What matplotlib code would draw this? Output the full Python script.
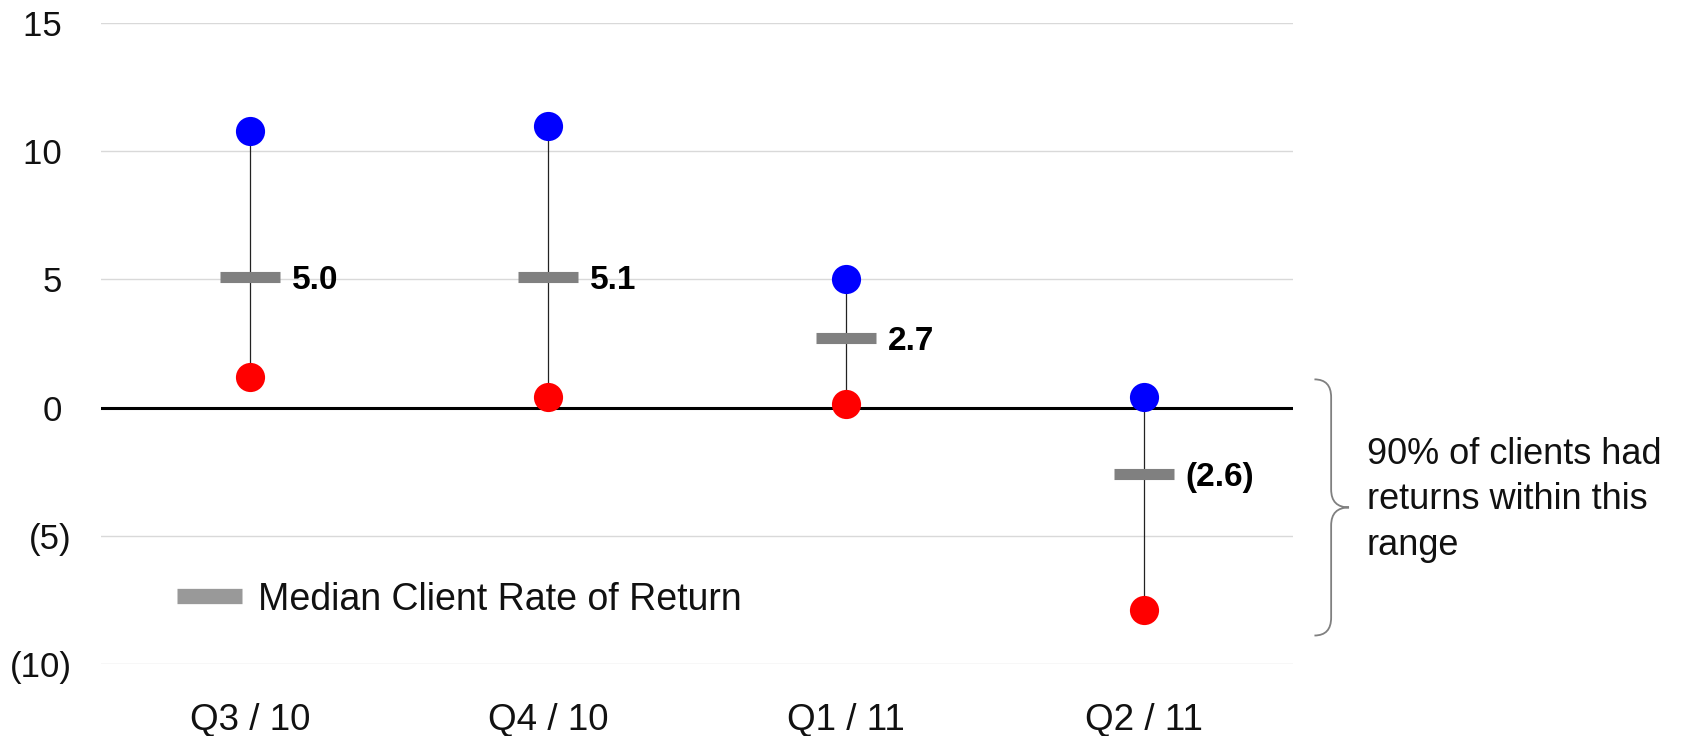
import numpy as np
import matplotlib
matplotlib.use('Agg')
import matplotlib.pyplot as plt
from matplotlib.path import Path
from matplotlib.patches import PathPatch
import matplotlib.transforms as mtransforms

plt.rcParams['font.family'] = ['Liberation Sans', 'DejaVu Sans']

# data
quarters = ['Q3 / 10', 'Q4 / 10', 'Q1 / 11', 'Q2 / 11']
high_90 = [10.8, 11.0, 5.0, 0.4]
low_90 = [1.2, 0.4, 0.15, -7.9]
median = [5.1, 5.1, 2.7, -2.6]
median_labels = ['5.0', '5.1', '2.7', '(2.6)']
yticks = [-10, -5, 0, 5, 10, 15]

fig = plt.figure(figsize=(16.89, 7.36), dpi=100)
ax = fig.add_axes([101 / 1689, 72.3 / 736, 1192 / 1689, 640.4 / 736])

x = np.arange(len(quarters))

# gridlines and zero line
for t in yticks:
    if t == 0:
        continue
    ax.axhline(t, color='#d9d9d9', lw=1, zorder=0)
ax.axhline(0, color='black', lw=2.2, zorder=1)

# range lines
ax.vlines(x, low_90, high_90, color='#222222', lw=0.9, zorder=2)
# median bars
ax.hlines(median, x - 0.1, x + 0.1, color='#808080', lw=8, zorder=3, capstyle='butt')
# end points
ax.plot(x, high_90, 'o', color='#0000ff', ms=21, mec='none', zorder=4)
ax.plot(x, low_90, 'o', color='#ff0000', ms=21, mec='none', zorder=4)

for xi, m, lab in zip(x, median, median_labels):
    ax.annotate(lab, (xi + 0.14, m), va='center_baseline', ha='left', fontsize=24,
                fontweight='bold', color='black')

ax.set_xlim(-0.5, 3.5)
ax.set_ylim(-10, 15)
ax.set_yticks(yticks)
ax.set_yticklabels([f'({abs(t)})' if t < 0 else f'{t} ' for t in yticks])
ax.set_xticks(x)
ax.set_xticklabels(quarters)
ax.tick_params(axis='y', length=0, pad=21, labelsize=25, labelcolor='#111111')
ax.tick_params(axis='x', length=0, pad=28, labelsize=26.5, labelcolor='#111111')
for s in ax.spines.values():
    s.set_visible(False)

# legend
ax.plot([0.064, 0.118], [0.106, 0.106], transform=ax.transAxes, color='#999999',
        lw=11, solid_capstyle='butt', clip_on=False)
ax.text(0.132, 0.106, 'Median Client Rate of Return', transform=ax.transAxes,
        va='center_baseline', ha='left', fontsize=27, color='#111111')

# brace to the right of the last quarter
trans = mtransforms.blended_transform_factory(ax.transAxes, ax.transData)
top = high_90[-1] + 0.7
bot = low_90[-1] - 1.0
mid = (top + bot) / 2
x0, x1, x2 = 1.018, 1.032, 1.047
c = 0.7
verts = [(x0, top), (x1, top), (x1, top - c),
         (x1, mid + c), (x1, mid), (x2, mid),
         (x1, mid), (x1, mid - c),
         (x1, bot + c), (x1, bot), (x0, bot)]
codes = [Path.MOVETO, Path.CURVE3, Path.CURVE3,
         Path.LINETO, Path.CURVE3, Path.CURVE3,
         Path.CURVE3, Path.CURVE3,
         Path.LINETO, Path.CURVE3, Path.CURVE3]
ax.add_patch(PathPatch(Path(verts, codes), transform=trans, fill=False,
                       edgecolor='#808080', lw=1.3, clip_on=False))
ax.text(1.062, mid + 0.3, '90% of clients had\nreturns within this\nrange', transform=trans,
        va='center', ha='left', fontsize=26, color='#111111', linespacing=1.38)

fig.savefig('out.png', dpi=100)
